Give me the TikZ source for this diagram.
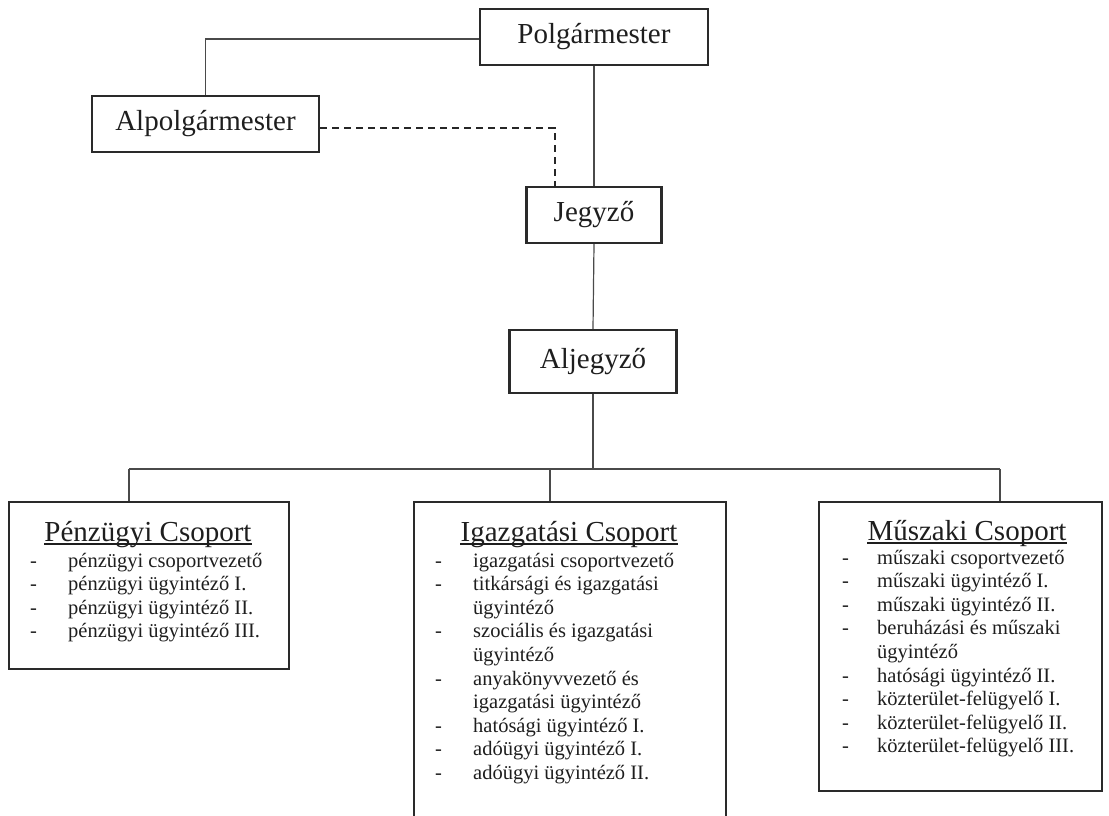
\documentclass[tikz,border=0pt]{standalone}
\usepackage{fontspec}
\setmainfont{Liberation Serif}
\usetikzlibrary{calc}
\definecolor{txtcol}{HTML}{1E1E1E}
\definecolor{boxcol}{HTML}{2A2A2A}
\definecolor{linecol}{HTML}{4A4A4A}
\begin{document}
\begin{tikzpicture}[x=1pt,y=-1pt,
  topbox/.style={draw=boxcol, line width=2.2pt, inner sep=0pt, text=txtcol,
    font=\fontsize{29}{34}\selectfont},
  groupbox/.style={draw=boxcol, line width=2.2pt, anchor=north west, inner sep=0pt},
  conn/.style={draw=linecol, line width=1.2pt},
  dashconn/.style={draw=black!85, line width=1.8pt, dash pattern=on 7pt off 5pt},
  grouptitle/.style={anchor=base, inner sep=0pt, text=txtcol, font=\fontsize{29}{34}\selectfont},
  itemtext/.style={anchor=base west, inner sep=0pt, text=txtcol, font=\fontsize{20.5}{24}\selectfont},
  uline/.style={draw=txtcol, line width=1.2pt},
]
\useasboundingbox (0,0) rectangle (1109,815);
\clip (0,0) rectangle (1109,815);

% top nodes
\node[topbox, minimum width=228pt, minimum height=56pt] (polg) at (594,37) {Polgármester};
\node[topbox, minimum width=227pt, minimum height=56pt] (alp) at (205.5,124) {Alpolgármester};
\node[topbox, minimum width=135pt, minimum height=56pt] (jeg) at (594,215) {Jegyző};
\node[topbox, minimum width=167pt, minimum height=63pt] (aljeg) at (593,361.5) {Aljegyző};

% group boxes
\node[groupbox, minimum width=280pt, minimum height=167pt] (pen) at (8,501) {};
\node[groupbox, minimum width=312pt, minimum height=340pt] (igaz) at (413,501) {};
\node[groupbox, minimum width=283pt, minimum height=289pt] (musz) at (818,501) {};

% connectors
\coordinate (dashend) at (555,187);
\coordinate (busl) at (129,469);
\coordinate (busm) at (550,469);
\coordinate (busr) at (1000,469);
\draw[conn] (alp.north) |- ($(polg.west)+(0,2)$);
\draw[dashconn] ($(alp.east)+(0,4)$) -| (dashend);
\draw[conn] (polg.south) -- (jeg.north);
\draw[conn] (jeg.south) -- (aljeg.north);
\draw[conn] (aljeg.south) -- (aljeg.south |- busl);
\draw[conn] (busl) -- (busr);
\draw[conn] (busl) -- (busl |- pen.north);
\draw[conn] (busm) -- (busm |- igaz.north);
\draw[conn] (busr) -- (busr |- musz.north);

% titles
\node[grouptitle] (pent) at (148,541) {Pénzügyi Csoport};
\node[grouptitle] (igazt) at (569,541) {Igazgatási Csoport};
\node[grouptitle] (muszt) at (967,540) {Műszaki Csoport};
\draw[uline] ($(pent.base west)+(0,3)$) -- ($(pent.base east)+(0,3)$);
\draw[uline] ($(igazt.base west)+(0,3)$) -- ($(igazt.base east)+(0,3)$);
\draw[uline] ($(muszt.base west)+(0,3)$) -- ($(muszt.base east)+(0,3)$);

% items
\foreach \d/\t [count=\i from 0] in {1/pénzügyi csoportvezető, 1/pénzügyi ügyintéző I., 1/pénzügyi ügyintéző II., 1/pénzügyi ügyintéző III.}{
  \node[itemtext, name=peni\i] at (68,{567+23.6*\i}) {\t};
  \ifnum\d=1 \node[itemtext, name=pend\i] at (30,{567+23.6*\i}) {-};\fi
}
\foreach \d/\t [count=\i from 0] in {1/igazgatási csoportvezető, 1/titkársági és igazgatási, 0/ügyintéző, 1/szociális és igazgatási, 0/ügyintéző, 1/anyakönyvvezető és, 0/igazgatási ügyintéző, 1/hatósági ügyintéző I., 1/adóügyi ügyintéző I., 1/adóügyi ügyintéző II.}{
  \node[itemtext, name=igazi\i] at (473,{567+23.6*\i}) {\t};
  \ifnum\d=1 \node[itemtext, name=igazd\i] at (435,{567+23.6*\i}) {-};\fi
}
\foreach \d/\t [count=\i from 0] in {1/műszaki csoportvezető, 1/műszaki ügyintéző I., 1/műszaki ügyintéző II., 1/beruházási és műszaki, 0/ügyintéző, 1/hatósági ügyintéző II., 1/közterület-felügyelő I., 1/közterület-felügyelő II., 1/közterület-felügyelő III.}{
  \node[itemtext, name=muszi\i] at (877,{564+23.6*\i}) {\t};
  \ifnum\d=1 \node[itemtext, name=muszd\i] at (842,{564+23.6*\i}) {-};\fi
}
\end{tikzpicture}
\end{document}
